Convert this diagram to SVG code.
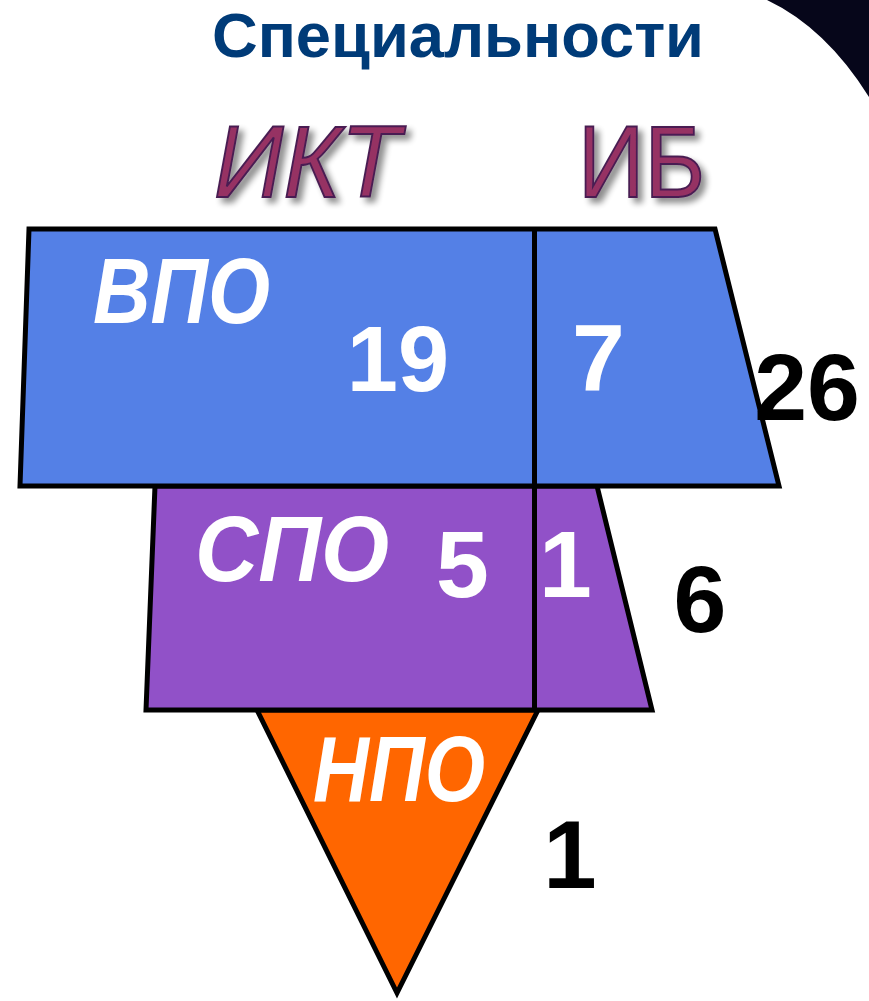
<svg xmlns="http://www.w3.org/2000/svg" width="869" height="1001" viewBox="0 0 869 1001">
<defs>
<filter id="sh" x="-20%" y="-20%" width="150%" height="150%">
<feGaussianBlur in="SourceAlpha" stdDeviation="3"/>
<feOffset dx="5" dy="5" result="b"/>
<feComponentTransfer in="b" result="c"><feFuncA type="linear" slope="0.45"/></feComponentTransfer>
<feMerge><feMergeNode in="c"/><feMergeNode in="SourceGraphic"/></feMerge>
</filter>
<style>
.shape{stroke:#000;stroke-width:5;stroke-linejoin:miter}
.lbl{font-family:"Liberation Sans",Arial,sans-serif;font-weight:bold;font-style:italic;fill:#fff}
.num{font-family:"Liberation Sans",Arial,sans-serif;font-weight:bold;text-anchor:middle}
.head{font-family:"Liberation Sans",Arial,sans-serif;fill:#963264;stroke:#4a1f52;stroke-width:2;filter:url(#sh)}
</style>
</defs>
<rect width="869" height="1001" fill="#fff"/>
<path d="M767,0 Q826,28 869,97 L869,0 Z" fill="#06061a"/>
<text x="458" y="57" text-anchor="middle" font-family="'Liberation Sans',Arial,sans-serif" font-weight="bold" font-size="63" fill="#003B78" textLength="492" lengthAdjust="spacingAndGlyphs">Специальности</text>
<text class="head" x="214" y="197" font-size="102" font-style="italic" textLength="186" lengthAdjust="spacingAndGlyphs">ИКТ</text>
<text class="head" x="578" y="197" font-size="102" textLength="127" lengthAdjust="spacingAndGlyphs">ИБ</text>
<g id="npo">
<polygon class="shape" points="257,710 538,710 397,993" fill="#FF6600"/>
<text class="lbl" x="313" y="801" font-size="93" textLength="172" lengthAdjust="spacingAndGlyphs">НПО</text>
<text class="num" x="570" y="888" font-size="96" fill="#000">1</text>
</g>
<g id="spo">
<polygon class="shape" points="155,486 597,486 652,710 146,710" fill="#9151C8"/>
<text class="lbl" x="195" y="581" font-size="93" textLength="194" lengthAdjust="spacingAndGlyphs">СПО</text>
<text class="num" x="462.5" y="597" font-size="95" fill="#fff">5</text>
<text class="num" x="565.5" y="597" font-size="95" fill="#fff">1</text>
<text class="num" x="700" y="632" font-size="95" fill="#000">6</text>
</g>
<g id="vpo">
<polygon class="shape" points="29,229 715,229 779,486 20,486" fill="#5480E6"/>
<text class="lbl" x="93" y="323" font-size="93" textLength="177" lengthAdjust="spacingAndGlyphs">ВПО</text>
<text class="num" x="398" y="391" font-size="92" fill="#fff">19</text>
<text class="num" x="598.5" y="391" font-size="95" fill="#fff">7</text>
<text class="num" x="807" y="420" font-size="95" fill="#000">26</text>
</g>
<g id="connectors">
<line x1="534.5" y1="229" x2="534.5" y2="710" stroke="#000" stroke-width="5"/>
</g>
</svg>
